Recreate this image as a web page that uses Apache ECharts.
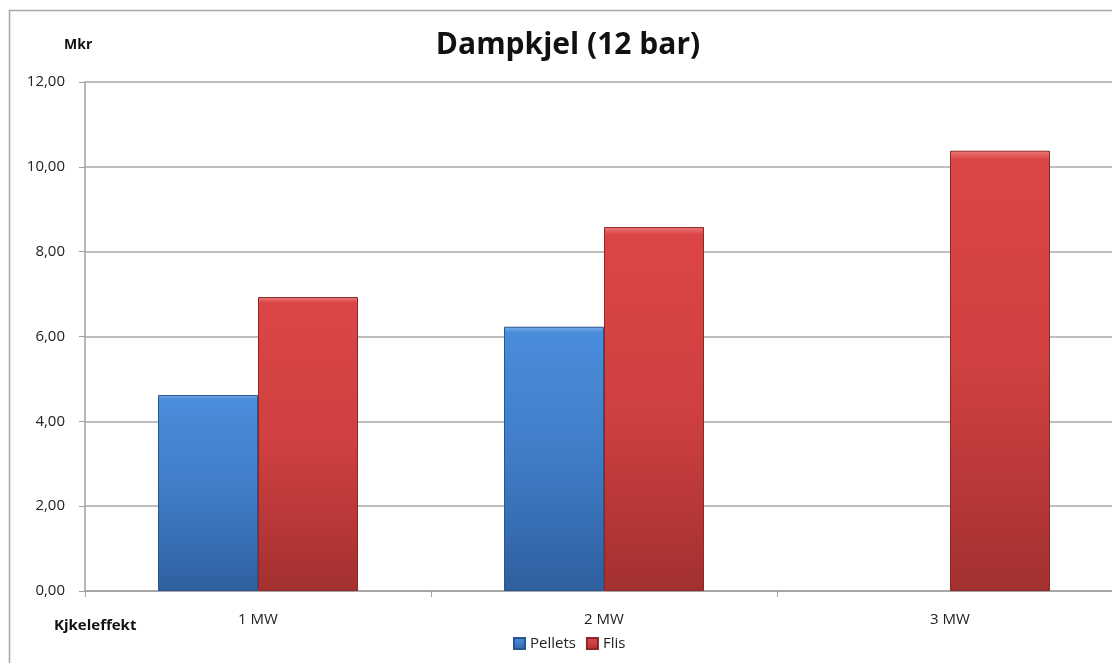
<!DOCTYPE html>
<html><head><meta charset="utf-8">
<script src="https://cdn.jsdelivr.net/npm/echarts@6/dist/echarts.min.js"></script>
<style>html,body{margin:0;padding:0;background:#fff}#c{width:1112px;height:663px}</style>
</head><body><div id="c"></div>
<script>
const categories = ['1 MW', '2 MW', '3 MW'];
const pellets = [4.62, 6.23, null];
const flis = [6.93, 8.58, 10.38];
const yTicks = [0, 2, 4, 6, 8, 10, 12];

const chart = echarts.init(document.getElementById('c'));
const font = '"Open Sans", Lato, sans-serif';
function grad(hi, top, mid, bot) {
  return new echarts.graphic.LinearGradient(0, 0, 0, 1, [
    {offset: 0, color: hi}, {offset: 0.02, color: top}, {offset: 0.5, color: mid}, {offset: 1, color: bot}
  ]);
}
chart.setOption({
  animation: false,
  title: {
    text: 'Dampkjel (12 bar)', left: 563, top: 25, textAlign: 'center',
    textStyle: {fontFamily: font, fontSize: 30, fontWeight: 'bold', color: '#111'}
  },
  legend: {
    data: ['Pellets', 'Flis'], left: 508, top: 631, icon: 'rect', itemWidth: 11, itemHeight: 11, itemGap: 10,
    textStyle: {fontFamily: font, fontSize: 15, color: '#222'}
  },
  grid: {left: 85, width: 1038, top: 82, bottom: 72, outerBoundsMode: 'none', containLabel: false},
  graphic: [
    {type: 'rect', shape: {x: 9.5, y: 10.5, width: 1200, height: 700}, style: {fill: 'none', stroke: '#a8a8a8', lineWidth: 1.5}, silent: true},
    {type: 'text', left: 64, top: 38, style: {text: 'Mkr', font: 'bold 14px ' + font, fill: '#111'}},
    {type: 'text', left: 54, top: 618, style: {text: 'Kjkeleffekt', font: 'bold 15px ' + font, fill: '#111'}}
  ],
  xAxis: {
    type: 'category', data: categories,
    axisLine: {lineStyle: {color: '#a0a0a0', width: 1.5}},
    axisTick: {show: true, length: 6, lineStyle: {color: '#a0a0a0'}},
    axisLabel: {fontFamily: font, fontSize: 15, color: '#222', margin: 21}
  },
  yAxis: {
    type: 'value', min: 0, max: 12, interval: 2,
    axisLine: {show: true, lineStyle: {color: '#a0a0a0', width: 1.5}},
    axisTick: {show: true, length: 6, lineStyle: {color: '#a0a0a0'}},
    splitLine: {lineStyle: {color: '#a8a8a8', width: 1.5}},
    axisLabel: {fontFamily: font, fontSize: 15, color: '#222', margin: 20,
      formatter: v => yTicks.includes(v) ? v.toFixed(2).replace('.', ',') : ''}
  },
  series: [
    {name: 'Pellets', type: 'bar', data: pellets, barWidth: 100, barGap: '0%',
      itemStyle: {color: grad('#7fb0ec', '#4a8ddb', '#3f7cc6', '#2f5f9f'), borderColor: '#2a5690', borderWidth: 1}},
    {name: 'Flis', type: 'bar', data: flis, barWidth: 100, barGap: '0%',
      itemStyle: {color: grad('#ec7a7a', '#dc4545', '#cf4040', '#a33030'), borderColor: '#8e2828', borderWidth: 1}}
  ]
});
</script></body></html>
